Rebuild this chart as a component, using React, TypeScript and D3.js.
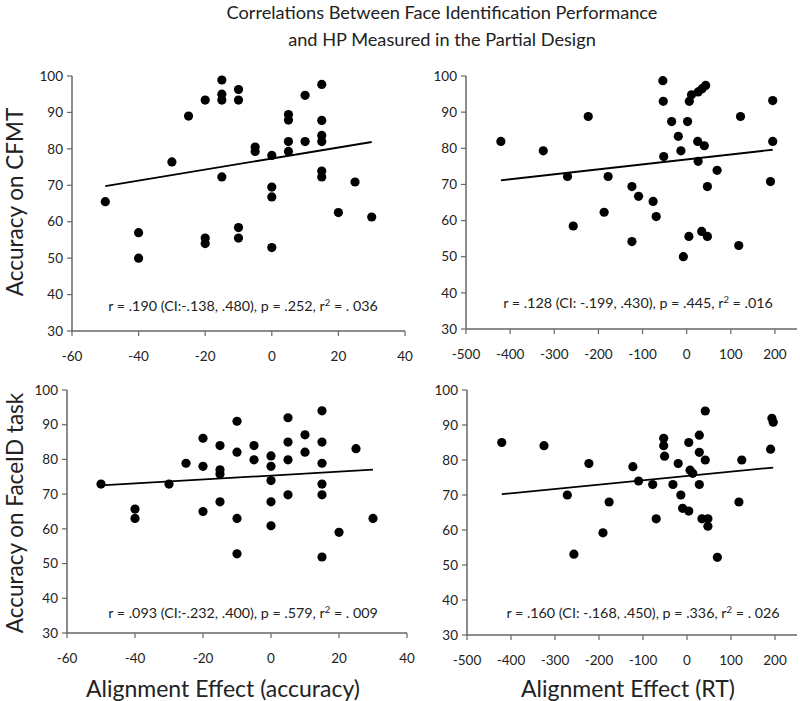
import React from 'react';
import * as d3 from 'd3';

const W = 800;
const H = 701;

const titleLines = [
  'Correlations Between Face Identification Performance',
  'and HP Measured in the Partial Design',
];

// Top-left: CFMT accuracy vs alignment effect (accuracy)
const cfmtAccX = [-50, -40, -40, -30, -25, -20, -20, -20, -15, -15, -15, -15, -10, -10, -10, -10, -5, -5, 0, 0, 0, 0, 5, 5, 5, 5, 10, 10, 15, 15, 15, 15, 15, 15, 20, 25, 30];
const cfmtAccY = [65.5, 57, 50, 76.4, 89, 93.4, 55.5, 54, 98.9, 95, 93.4, 72.3, 96.3, 93.4, 58.4, 55.5, 80.5, 79.3, 78.2, 69.5, 66.8, 52.9, 89.4, 87.9, 82, 79.3, 94.7, 82, 97.7, 87.8, 83.7, 82, 73.9, 72.3, 62.5, 70.9, 61.3];

// Top-right: CFMT accuracy vs alignment effect (RT)
const cfmtRtX = [-421, -325, -270, -257, -223, -187, -178, -124, -124, -109, -76, -69, -54, -53, -52, -34, -19, -13, -7.5, 2, 5, 6, 11, 25, 26, 26, 35, 43, 34, 40, 47, 47, 69, 118, 122, 190, 195, 195];
const cfmtRtY = [81.9, 79.3, 72.2, 58.5, 88.8, 62.3, 72.2, 69.4, 54.2, 66.7, 65.3, 61.1, 98.7, 93, 77.7, 87.4, 83.3, 79.3, 50, 87.4, 55.6, 93, 94.8, 81.9, 76.4, 95.6, 96.5, 97.4, 57, 80.7, 55.6, 69.4, 73.9, 53.1, 88.8, 70.8, 93.2, 81.9];

// Bottom-left: FaceID accuracy vs alignment effect (accuracy)
const faceAccX = [-50, -40, -40, -30, -25, -20, -20, -20, -15, -15, -15, -15, -10, -10, -10, -10, -5, -5, 0, 0, 0, 0, 0, 5, 5, 5, 5, 10, 10, 15, 15, 15, 15, 15, 15, 20, 25, 30];
const faceAccY = [72.9, 65.7, 63, 72.9, 78.9, 86.1, 78, 65, 84, 77, 75.8, 67.8, 91, 82.1, 63, 52.8, 84, 79.9, 81, 78, 73.9, 67.8, 60.9, 92, 85, 79.9, 69.8, 87.1, 82.1, 94, 85, 78.9, 72.9, 69.8, 51.9, 59, 83.1, 63];

// Bottom-right: FaceID accuracy vs alignment effect (RT)
const faceRtX = [-421, -325, -272, -257, -223, -191, -177, -123, -110, -78, -70, -53, -53, -51, -32, -20, -14, -10, 4, 4, 7, 13, 28, 28, 28, 34, 41.5, 41.5, 47.5, 47.5, 69, 118, 124.5, 190, 193, 196];
const faceRtY = [85, 84.1, 70, 53.1, 79, 59.2, 68, 78.1, 74, 73, 63.2, 86.2, 84.1, 81.1, 73, 79, 70, 66.2, 65.4, 85, 77.1, 76.2, 82.2, 87.1, 73, 63.2, 80, 94, 63.2, 61.1, 52.2, 68, 80, 83.1, 91.9, 90.8];

const yTicks = [30, 40, 50, 60, 70, 80, 90, 100];
const accTicks = [-60, -40, -20, 0, 20, 40];
const rtTicks = [-500, -400, -300, -200, -100, 0, 100, 200];

const statsCfmtAcc = ['r = .190 (CI:-.138, .480), p = .252, r', ' = . 036'];
const statsCfmtRt = ['r = .128 (CI: -.199, .430), p = .445, r', ' = .016'];
const statsFaceAcc = ['r = .093 (CI:-.232, .400), p = .579, r', ' = . 009'];
const statsFaceRt = ['r = .160 (CI: -.168, .450), p = .336, r', ' = . 026'];

const yTitles = ['Accuracy on CFMT', 'Accuracy on FaceID task'];
const xTitles = ['Alignment Effect (accuracy)', 'Alignment Effect (RT)'];

const FONT = "Lato, 'Open Sans', sans-serif";
const AXIS = '#666';

const panels = [
  { xs: cfmtAccX, ys: cfmtAccY, stats: statsCfmtAcc, ticks: accTicks, xDomain: [-60, 40], xRange: [72, 405], yRange: [331, 76], statX: 243, statY: 311 },
  { xs: cfmtRtX, ys: cfmtRtY, stats: statsCfmtRt, ticks: rtTicks, xDomain: [-500, 250], xRange: [466, 797], yRange: [329, 76], statX: 638, statY: 308 },
  { xs: faceAccX, ys: faceAccY, stats: statsFaceAcc, ticks: accTicks, xDomain: [-60, 40], xRange: [67, 407], yRange: [633, 390], statX: 243, statY: 618 },
  { xs: faceRtX, ys: faceRtY, stats: statsFaceRt, ticks: rtTicks, xDomain: [-500, 250], xRange: [467, 797], yRange: [635, 390], statX: 643, statY: 618 },
];

function regression(xs: number[], ys: number[]) {
  const mx = d3.mean(xs) as number;
  const my = d3.mean(ys) as number;
  let sxy = 0;
  let sxx = 0;
  xs.forEach((x, i) => {
    sxy += (x - mx) * (ys[i] - my);
    sxx += (x - mx) * (x - mx);
  });
  const b = sxy / sxx;
  const a = my - b * mx;
  return (x: number) => a + b * x;
}

function Panel({ p }: { p: typeof panels[number] }) {
  const x = d3.scaleLinear().domain(p.xDomain).range(p.xRange);
  const y = d3.scaleLinear().domain([30, 100]).range(p.yRange);
  const x0 = p.xRange[0];
  const y0 = p.yRange[0];
  const f = regression(p.xs, p.ys);
  const [xmin, xmax] = d3.extent(p.xs) as [number, number];
  const line = d3.line<number>().x((d) => x(d)).y((d) => y(f(d)));
  return (
    <g>
      <line x1={x0} x2={p.xRange[1]} y1={y0} y2={y0} stroke={AXIS} strokeWidth={1.5} />
      <line x1={x0} x2={x0} y1={y0} y2={p.yRange[1]} stroke={AXIS} strokeWidth={1.5} />
      {yTicks.map((t) => (
        <g key={'y' + t}>
          <line x1={x0 - 5} x2={x0} y1={y(t)} y2={y(t)} stroke={AXIS} strokeWidth={1.2} />
          <text x={x0 - 9} y={y(t)} dy="0.35em" textAnchor="end" fontSize={13.5} fill="#222">{t}</text>
        </g>
      ))}
      {p.ticks.map((t) => (
        <g key={'x' + t}>
          <line x1={x(t)} x2={x(t)} y1={y0} y2={y0 + 5} stroke={AXIS} strokeWidth={1.2} />
          <text x={x(t)} y={y0 + 25} dy="0.35em" textAnchor="middle" fontSize={13.5} fill="#222">{t}</text>
        </g>
      ))}
      {p.xs.map((v, i) => (
        <circle key={i} cx={x(v)} cy={y(p.ys[i])} r={4.6} fill="#000" />
      ))}
      <path d={line([xmin, xmax]) as string} stroke="#000" strokeWidth={1.8} fill="none" />
      <text x={p.statX} y={p.statY} textAnchor="middle" fontSize={14.3} fill="#222">
        {p.stats[0]}
        <tspan dy={-5} fontSize={9.5}>2</tspan>
        <tspan dy={5}>{p.stats[1]}</tspan>
      </text>
    </g>
  );
}

export default function App() {
  return (
    <svg width={W} height={H} style={{ position: 'absolute', left: 0, top: 0, background: '#fff' }} fontFamily={FONT}>
      <rect width={W} height={H} fill="#fff" />
      {titleLines.map((t, i) => (
        <text key={t} x={442} y={19 + i * 27} textAnchor="middle" fontSize={18.2} fill="#222">{t}</text>
      ))}
      {panels.map((p, i) => (
        <Panel key={i} p={p} />
      ))}
      <text transform="translate(23,202) rotate(-90)" textAnchor="middle" fontSize={22.5} fill="#222">{yTitles[0]}</text>
      <text transform="translate(23,513) rotate(-90)" textAnchor="middle" fontSize={22.5} fill="#222">{yTitles[1]}</text>
      <text x={223} y={697} textAnchor="middle" fontSize={23} fill="#222">{xTitles[0]}</text>
      <text x={628} y={697} textAnchor="middle" fontSize={23} fill="#222">{xTitles[1]}</text>
    </svg>
  );
}
